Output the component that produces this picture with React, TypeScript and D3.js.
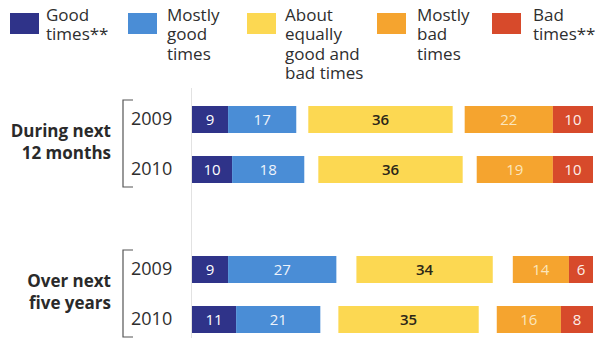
import React from "react";
import * as d3 from "d3";

const years = ["2009", "2010"];
const groupKeys = ["next12", "next5y"];
const groupLines = [
  ["During next", "12 months"],
  ["Over next", "five years"],
];
const goodTimes = [9, 10, 9, 11];
const mostlyGood = [17, 18, 27, 21];
const aboutEqual = [36, 36, 34, 35];
const mostlyBad = [22, 19, 14, 16];
const badTimes = [10, 10, 6, 8];

const legendLabels = [
  ["Good", "times**"],
  ["Mostly", "good", "times"],
  ["About", "equally", "good and", "bad times"],
  ["Mostly", "bad", "times"],
  ["Bad", "times**"],
];

const colors = ["#2f3389", "#4a8dd6", "#fcd852", "#f5a42f", "#d74a2b"];
const labelColors = ["#ffffff", "#eef3fb", "#2b2618", "#fbe6bd", "#fdeee8"];

const W = 597;
const H = 338;
const legendX = [10, 128, 247, 377, 492];
const legendTextX = [46, 167, 285, 417, 533];

const FONT = "'Open Sans', 'Liberation Sans', sans-serif";

export default function App() {
  const x = d3.scaleLinear().domain([0, 100]).range([192, 593]);
  const outer = d3.scaleBand<string>().domain(groupKeys).range([106, 406]).padding(0);
  const inner = d3.scaleBand<string>().domain(years).range([0, 77]).paddingInner(0.46).paddingOuter(0);
  const bw = inner.bandwidth();

  const rows = groupKeys.flatMap((g, gi) =>
    years.map((yr, yi) => {
      const i = gi * years.length + yi;
      const y = (outer(g) as number) + (inner(yr) as number);
      const g1 = goodTimes[i];
      const g2 = mostlyGood[i];
      const n = aboutEqual[i];
      const b1 = mostlyBad[i];
      const b2 = badTimes[i];
      const goodEnd = x(g1 + g2);
      const badStart = x(100 - b1 - b2);
      const nw = x(n) - x(0);
      const mid = (goodEnd + badStart) / 2;
      const segs = [
        { x0: x(0), x1: x(g1), v: g1 },
        { x0: x(g1), x1: x(g1 + g2), v: g2 },
        { x0: mid - nw / 2, x1: mid + nw / 2, v: n },
        { x0: badStart, x1: x(100 - b2), v: b1 },
        { x0: x(100 - b2), x1: x(100), v: b2 },
      ];
      return { key: g + yr, yr, y, segs };
    })
  );

  return (
    <svg
      width={W}
      height={H}
      style={{ position: "absolute", left: 0, top: 0, background: "#fff" }}
      fontFamily={FONT}
    >
      {/* legend */}
      {legendLabels.map((lines, i) => (
        <g key={i}>
          <rect x={legendX[i]} y={13} width={29} height={21} fill={colors[i]} />
          <text x={legendTextX[i]} y={21} fontSize={17} fill="#2e2e2e">
            {lines.map((l, j) => (
              <tspan key={j} x={legendTextX[i]} dy={j === 0 ? 0 : 19.3}>
                {l}
              </tspan>
            ))}
          </text>
        </g>
      ))}

      {/* vertical axis line */}
      <line x1={191.5} x2={191.5} y1={88} y2={H} stroke="#e2e2e2" strokeWidth={1} />

      {/* groups: bracket + label */}
      {groupKeys.map((g, gi) => {
        const top = outer(g) as number;
        const yMid = top + 77 / 2;
        const bTop = top - 6;
        const bBot = Math.min(top + 77 + 4, H - 1);
        return (
          <g key={g}>
            <path
              d={`M133,${bTop}H123V${bBot}H133`}
              fill="none"
              stroke="#555"
              strokeWidth={1.2}
            />
            <text textAnchor="end" fontWeight={700} fontSize={17} fill="#2a2a2a">
              <tspan x={111} y={yMid - 7.5}>
                {groupLines[gi][0]}
              </tspan>
              <tspan x={111} y={yMid + 14}>
                {groupLines[gi][1]}
              </tspan>
            </text>
          </g>
        );
      })}

      {/* bars */}
      {rows.map((r) => (
        <g key={r.key}>
          <text x={131} y={r.y + bw / 2 + 5} fontSize={18} fill="#2e2e2e">
            {r.yr}
          </text>
          {r.segs.map((s, k) => (
            <g key={k}>
              <rect x={s.x0} y={r.y} width={s.x1 - s.x0} height={bw} fill={colors[k]} />
              <text
                x={(s.x0 + s.x1) / 2}
                y={r.y + bw / 2 + 5}
                textAnchor="middle"
                fontSize={15}
                fontWeight={k === 2 ? 600 : 500}
                fill={labelColors[k]}
              >
                {s.v}
              </text>
            </g>
          ))}
        </g>
      ))}
    </svg>
  );
}
